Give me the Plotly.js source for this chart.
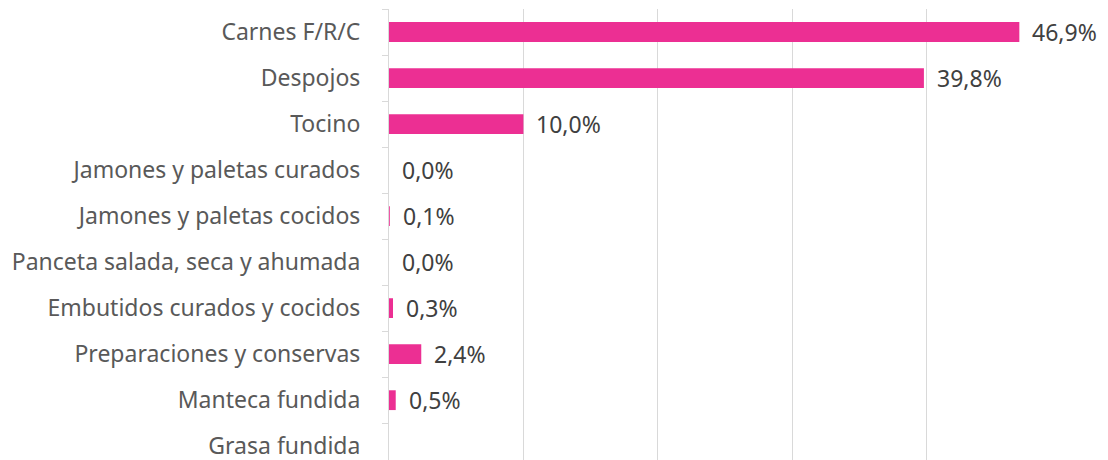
<!DOCTYPE html>
<html><head><meta charset="utf-8">
<script src="https://cdn.plot.ly/plotly-3.0.1.min.js"></script>
<style>html,body{margin:0;padding:0;background:#fff}#c{width:1108px;height:460px}</style>
</head><body><div id="c"></div>
<script>
const categories = ["Carnes F/R/C","Despojos","Tocino","Jamones y paletas curados","Jamones y paletas cocidos","Panceta salada, seca y ahumada","Embutidos curados y cocidos","Preparaciones y conservas","Manteca fundida","Grasa fundida"];
const values = [46.9, 39.8, 10.0, 0.0, 0.06, 0.0, 0.3, 2.4, 0.5, null];
const labels = values.map(v => v === null ? "" : v.toFixed(1).replace(".", ",") + "%");

const font = "Noto Sans, sans-serif";
const trace = {
  type: "bar", orientation: "h", x: values, y: categories,
  marker: {color: "#EC2F93"}, hoverinfo: "none", cliponaxis: false
};
const annotations = categories.map((c, i) => values[i] === null ? null : ({
  x: values[i], y: c, xref: "x", yref: "y", text: labels[i], showarrow: false,
  xanchor: "left", xshift: 11, font: {family: font, size: 23, color: "#404040"}
})).filter(a => a);

Plotly.newPlot("c", [trace], {
  width: 1108, height: 460,
  margin: {l: 389, r: 47, t: 9, b: 0},
  paper_bgcolor: "#fff", plot_bgcolor: "#fff",
  bargap: 0.57, showlegend: false,
  font: {family: font, size: 23, color: "#595959"},
  xaxis: {range: [0, 50], dtick: 10, showticklabels: false, showgrid: true, gridcolor: "#d9d9d9", gridwidth: 1, zeroline: false, showline: false, fixedrange: true},
  yaxis: {type: "category", range: [9.3, -0.5], showline: true, linecolor: "#d9d9d9", linewidth: 1,
    ticks: "outside", tickson: "boundaries", ticklen: 6, tickcolor: "#d9d9d9", ticklabelstandoff: 23,
    tickfont: {family: font, size: 23, color: "#595959"}, showgrid: false, fixedrange: true},
  annotations: annotations
}, {displayModeBar: false, staticPlot: true});
</script></body></html>
